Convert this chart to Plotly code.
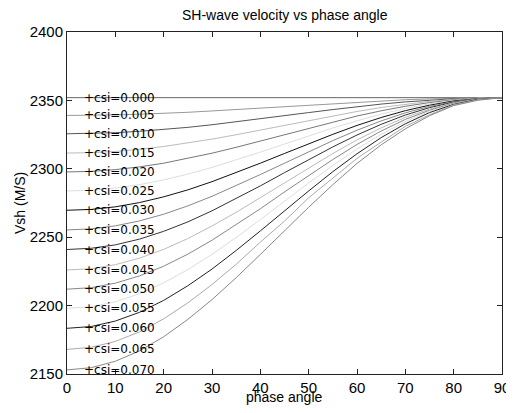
import plotly.graph_objects as go

# ---- data ----
phase_angle = [0, 5, 10, 15, 20, 25, 30, 35, 40, 45, 50, 55, 60, 65, 70, 75, 80, 85, 90]

csi_labels = ["0.000", "0.005", "0.010", "0.015", "0.020", "0.025", "0.030",
              "0.035", "0.040", "0.045", "0.050", "0.055", "0.060", "0.065", "0.070"]

vsh_000 = [2352.0, 2352.0, 2352.0, 2352.0, 2352.0, 2352.0, 2352.0, 2352.0, 2352.0, 2352.0,
           2352.0, 2352.0, 2352.0, 2352.0, 2352.0, 2352.0, 2352.0, 2352.0, 2352.0]
vsh_005 = [2339.0, 2339.1, 2339.4, 2339.9, 2340.5, 2341.3, 2342.3, 2343.3, 2344.4, 2345.5,
           2346.6, 2347.7, 2348.8, 2349.7, 2350.5, 2351.1, 2351.6, 2351.9, 2352.0]
vsh_010 = [2325.6, 2325.8, 2326.4, 2327.4, 2328.7, 2330.3, 2332.2, 2334.3, 2336.5, 2338.8,
           2341.1, 2343.3, 2345.4, 2347.3, 2348.9, 2350.2, 2351.2, 2351.8, 2352.0]
vsh_015 = [2311.5, 2311.8, 2312.7, 2314.2, 2316.3, 2318.8, 2321.7, 2324.9, 2328.3, 2331.8,
           2335.3, 2338.8, 2341.9, 2344.8, 2347.3, 2349.3, 2350.8, 2351.7, 2352.0]
vsh_020 = [2297.7, 2298.1, 2299.4, 2301.4, 2304.1, 2307.5, 2311.4, 2315.7, 2320.3, 2325.0,
           2329.7, 2334.3, 2338.6, 2342.4, 2345.7, 2348.4, 2350.4, 2351.6, 2352.0]
vsh_025 = [2283.8, 2284.3, 2285.9, 2288.4, 2291.9, 2296.1, 2301.0, 2306.5, 2312.2, 2318.1,
           2324.1, 2329.8, 2335.1, 2340.0, 2344.1, 2347.5, 2350.0, 2351.5, 2352.0]
vsh_030 = [2269.7, 2270.3, 2272.2, 2275.3, 2279.5, 2284.6, 2290.6, 2297.1, 2304.1, 2311.2,
           2318.4, 2325.2, 2331.7, 2337.5, 2342.5, 2346.5, 2349.6, 2351.3, 2352.0]
vsh_035 = [2255.3, 2256.1, 2258.3, 2261.9, 2266.8, 2272.9, 2279.9, 2287.6, 2295.8, 2304.1,
           2312.5, 2320.6, 2328.2, 2335.0, 2340.9, 2345.6, 2349.1, 2351.3, 2352.0]
vsh_040 = [2241.0, 2241.9, 2244.4, 2248.6, 2254.3, 2261.2, 2269.3, 2278.1, 2287.5, 2297.2,
           2306.8, 2316.0, 2324.7, 2332.5, 2339.3, 2344.7, 2348.7, 2351.1, 2352.0]
vsh_045 = [2226.0, 2227.0, 2229.9, 2234.7, 2241.1, 2249.0, 2258.2, 2268.2, 2278.9, 2289.8,
           2300.8, 2311.2, 2321.1, 2329.9, 2337.6, 2343.6, 2348.3, 2350.9, 2352.0]
vsh_050 = [2212.0, 2213.1, 2216.4, 2221.7, 2228.8, 2237.6, 2247.8, 2259.0, 2270.8, 2283.1,
           2295.2, 2306.8, 2317.8, 2327.6, 2336.1, 2342.8, 2347.9, 2350.9, 2352.0]
vsh_055 = [2198.0, 2199.2, 2202.8, 2208.7, 2216.6, 2226.3, 2237.5, 2249.8, 2262.9, 2276.3,
           2289.6, 2302.4, 2314.5, 2325.2, 2334.5, 2342.0, 2347.5, 2350.9, 2352.0]
vsh_060 = [2183.4, 2184.7, 2188.7, 2195.1, 2203.8, 2214.5, 2226.7, 2240.3, 2254.6, 2269.3,
           2283.8, 2297.9, 2311.0, 2322.8, 2332.9, 2341.1, 2347.1, 2350.8, 2352.0]
vsh_065 = [2168.0, 2169.5, 2173.8, 2180.8, 2190.3, 2202.0, 2215.4, 2230.2, 2246.4, 2261.8,
           2278.8, 2293.2, 2307.6, 2319.5, 2331.0, 2339.5, 2346.7, 2350.5, 2352.0]
vsh_070 = [2153.0, 2154.6, 2159.3, 2166.9, 2177.2, 2189.9, 2204.4, 2220.4, 2237.4, 2254.7,
           2271.9, 2288.4, 2303.9, 2317.5, 2329.2, 2338.8, 2346.2, 2350.1, 2352.0]

series = [vsh_000, vsh_005, vsh_010, vsh_015, vsh_020, vsh_025, vsh_030, vsh_035,
          vsh_040, vsh_045, vsh_050, vsh_055, vsh_060, vsh_065, vsh_070]

line_colors = ["#666666", "#999999", "#555555", "#bbbbbb", "#777777", "#dddddd", "#111111",
               "#888888", "#333333", "#bbbbbb", "#888888", "#dddddd", "#222222", "#aaaaaa", "#888888"]

x_ticks = [0, 10, 20, 30, 40, 50, 60, 70, 80, 90]
y_ticks = [2150, 2200, 2250, 2300, 2350, 2400]

label_angle = 3

# ---- figure ----
fig = go.Figure()
for vals, col in zip(series, line_colors):
    fig.add_trace(go.Scatter(x=phase_angle, y=vals, mode="lines",
                             line=dict(color=col, width=1),
                             showlegend=False, hoverinfo="skip"))

annotations = []
for lab, vals in zip(csi_labels, series):
    annotations.append(dict(x=label_angle, y=vals[0], xref="x", yref="y",
                            text="+csi=" + lab, showarrow=False,
                            xanchor="left", yanchor="middle",
                            font=dict(family="DejaVu Sans", size=12, color="#000000")))

annotations.append(dict(x=0.5, y=1.05, xref="paper", yref="paper",
                        text="SH-wave velocity vs phase angle", showarrow=False,
                        xanchor="center", yanchor="middle",
                        font=dict(family="Liberation Sans", size=14, color="#000000")))
annotations.append(dict(x=0.5, y=-0.068, xref="paper", yref="paper",
                        text="phase angle", showarrow=False,
                        xanchor="center", yanchor="middle",
                        font=dict(family="Liberation Sans", size=14, color="#000000")))
annotations.append(dict(x=-0.108, y=0.5, xref="paper", yref="paper",
                        text="Vsh (M/S)", showarrow=False, textangle=-90,
                        xanchor="center", yanchor="middle",
                        font=dict(family="Liberation Sans", size=14, color="#000000")))

axis_common = dict(showgrid=False, zeroline=False, showline=True, linecolor="#222222",
                   linewidth=1, mirror="ticks", ticks="inside", ticklen=5,
                   tickcolor="#222222", tickwidth=1, automargin=False,
                   tickfont=dict(family="Liberation Sans", size=15, color="#000000"))

# the page body adds an 8px offset; the figure size/margins compensate for it
fig.update_layout(
    width=506, height=397,
    margin=dict(l=59, r=12, t=24, b=31),
    plot_bgcolor="#ffffff", paper_bgcolor="#ffffff",
    xaxis=dict(range=[0, 90], tickvals=x_ticks, **axis_common),
    yaxis=dict(range=[2150, 2400], tickvals=y_ticks, **axis_common),
    annotations=annotations,
)

fig.write_html("out.html")
